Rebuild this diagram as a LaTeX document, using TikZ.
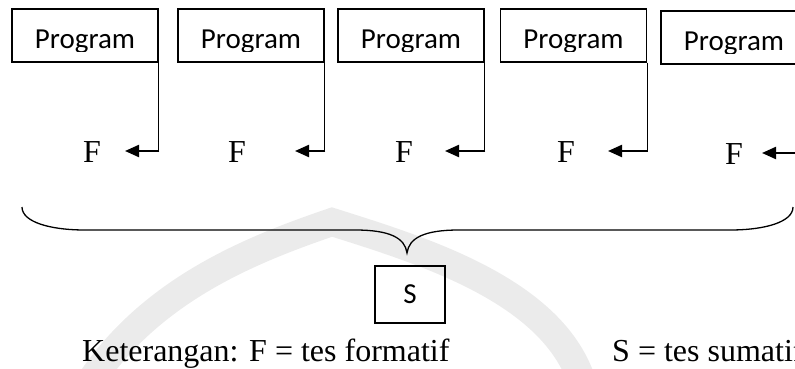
\documentclass[tikz,border=0pt]{standalone}
\usepackage{fontspec}
\setmainfont{Liberation Serif}
\newfontfamily\calibri{Carlito}
\usetikzlibrary{arrows.meta}
\tikzset{
  progbox/.style={draw, line width=1.3pt, minimum width=146pt, minimum height=53pt, inner sep=0pt},
  progtext/.style={anchor=base, inner sep=0pt, font=\calibri\fontsize{29}{34}\selectfont},
  ftext/.style={anchor=base, inner sep=0pt, font=\fontsize{32}{38}\selectfont},
  vline/.style={line width=1.3pt},
  harrow/.style={line width=2.2pt, -{Triangle[length=14pt,width=12pt]}},
  brace/.style={line width=1.3pt},
  sbox/.style={draw, line width=1.3pt, minimum width=70pt, minimum height=57pt, inner sep=0pt, font=\calibri\fontsize{29}{34}\selectfont},
  note/.style={anchor=base west, inner sep=0pt, font=\fontsize{32}{38}\selectfont},
  watermark/.style={line width=28pt, draw=black!8, line join=miter}
}
\begin{document}
\begin{tikzpicture}[x=1pt,y=-1pt]
\clip (0,0) rectangle (795,369);
% faint watermark
\draw[watermark] (88,385) .. controls (150,290) and (250,250) .. (332,222)
                 .. controls (420,250) and (555,290) .. (583,385);
% boxes
\node[progbox] (p1) at (85,35.5) {};
\node[progbox] (p2) at (251,35.5) {};
\node[progbox] (p3) at (411,35.5) {};
\node[progbox] (p4) at (573.5,35.5) {};
\node[progbox] (p5) at (734,37.5) {};
\begin{scope}
  \clip (p1.north west) rectangle ([yshift=11.5pt]p1.south east);
  \node[progtext] (l1) at ([yshift=14pt]p1.south) {Program};
\end{scope}
\begin{scope}
  \clip (p2.north west) rectangle ([yshift=11.5pt]p2.south east);
  \node[progtext] (l2) at ([yshift=14pt]p2.south) {Program};
\end{scope}
\begin{scope}
  \clip (p3.north west) rectangle ([yshift=11.5pt]p3.south east);
  \node[progtext] (l3) at ([yshift=14pt]p3.south) {Program};
\end{scope}
\begin{scope}
  \clip (p4.north west) rectangle ([yshift=11.5pt]p4.south east);
  \node[progtext] (l4) at ([yshift=14pt]p4.south) {Program};
\end{scope}
\begin{scope}
  \clip (p5.north west) rectangle ([yshift=11.5pt]p5.south east);
  \node[progtext] (l5) at ([yshift=14pt]p5.south) {Program};
\end{scope}
% F labels
\node[ftext] (f1) at (92,162) {F};
\node[ftext] (f2) at (237,162) {F};
\node[ftext] (f3) at (404,162) {F};
\node[ftext] (f4) at (566,162) {F};
\node[ftext] (f5) at (734,164) {F};
% arrow tips and corners
\coordinate (t1) at (125,151);
\coordinate (t2) at (295,151);
\coordinate (t3) at (445,151);
\coordinate (t4) at (608,151);
\coordinate (t5) at (762,153);
\coordinate (c1) at (p1.south east |- t1);
\coordinate (c2) at (p2.south east |- t2);
\coordinate (c3) at (p3.south east |- t3);
\coordinate (c4) at (p4.south east |- t4);
\coordinate (c5) at (p5.south east |- t5);
\foreach \i in {1,...,5}{
  \draw[vline] (p\i.south east) -- (c\i);
  \draw[harrow] ([xshift=0.65pt]c\i) -- (t\i);
}
% brace
\draw[brace] (22,207) .. controls (22,222) and (50,230) .. (85,230) -- (355,230)
  .. controls (390,230) and (405,238) .. (407,253)
  .. controls (409,238) and (424,230) .. (459,230) -- (730,230)
  .. controls (765,230) and (793,222) .. (793,207);
% S box
\node[sbox] (s) at (410,294.5) {S};
% legend
\node[note] (k) at (82,361) {Keterangan: F = tes formatif};
\node[note] (ks) at (612,361) {S = tes sumatif};
\end{tikzpicture}
\end{document}
